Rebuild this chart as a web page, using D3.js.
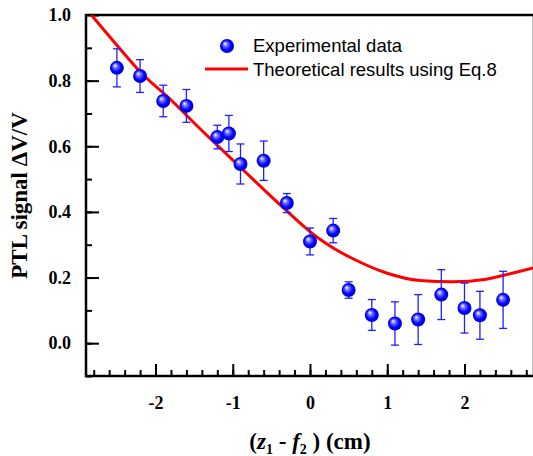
<!DOCTYPE html>
<html>
<head>
<meta charset="utf-8">
<script src="https://cdn.jsdelivr.net/npm/d3@7"></script>
<style>
  body { margin: 0; background: #fff; }
  svg { display: block; }
</style>
</head>
<body>
<svg id="chart"></svg>
<script>
// experimental points (z1 - f2 in cm, signal, error)
const expX = [-2.5, -2.2, -1.9, -1.6, -1.2, -1.05, -0.9, -0.6, -0.3, 0, 0.3, 0.5, 0.8, 1.1, 1.4, 1.7, 2.0, 2.2, 2.5];
const expY = [0.839, 0.814, 0.738, 0.723, 0.628, 0.639, 0.546, 0.556, 0.427, 0.31, 0.343, 0.162, 0.086, 0.06, 0.072, 0.148, 0.107, 0.085, 0.132];
const expErr = [0.058, 0.05, 0.048, 0.05, 0.036, 0.055, 0.061, 0.06, 0.029, 0.041, 0.037, 0.025, 0.047, 0.066, 0.076, 0.076, 0.076, 0.073, 0.087];

// theoretical curve
const theoX = [-2.83, -2.5, -2.2, -1.8, -1.43, -0.91, -0.57, -0.31, -0.05, 0.12, 0.3, 0.55, 0.99, 1.42, 1.85, 2.28, 2.63, 2.9];
const theoY = [1.0, 0.908, 0.827, 0.741, 0.655, 0.538, 0.462, 0.405, 0.35, 0.318, 0.29, 0.258, 0.214, 0.191, 0.187, 0.195, 0.214, 0.23];

const xTicks = [-2, -1, 0, 1, 2];
const yTicks = [0.0, 0.2, 0.4, 0.6, 0.8, 1.0];
const legendLabels = ['Experimental data', 'Theoretical results using Eq.8'];

const width = 533, height = 456;
const margin = {left: 86, top: 15, right: -1, bottom: 80};

const svg = d3.select('#chart')
  .attr('width', width)
  .attr('height', height);

const x = d3.scaleLinear().domain([-2.9, 2.9]).range([margin.left, width - margin.right]);
const y = d3.scaleLinear().domain([-0.1, 1.0]).range([height - margin.bottom, margin.top]);

const serif = '"Liberation Serif", "Times New Roman", serif';
const hyphen = f => d => f(d).replace('\u2212', '-');

const defs = svg.append('defs');
const grad = defs.append('radialGradient')
  .attr('id', 'ball')
  .attr('cx', '50%').attr('cy', '50%').attr('r', '55%')
  .attr('fx', '35%').attr('fy', '32%');
grad.append('stop').attr('offset', '0%').attr('stop-color', '#ffffff');
grad.append('stop').attr('offset', '30%').attr('stop-color', '#6b6bff');
grad.append('stop').attr('offset', '65%').attr('stop-color', '#0000ff');
grad.append('stop').attr('offset', '100%').attr('stop-color', '#0000c8');

defs.append('clipPath').attr('id', 'plotclip')
  .append('rect')
  .attr('x', x(-2.9)).attr('y', y(1.0))
  .attr('width', x(2.9) - x(-2.9)).attr('height', y(-0.1) - y(1.0));

// minor ticks
svg.append('g')
  .attr('transform', `translate(0,${y(-0.1)})`)
  .call(d3.axisBottom(x).tickValues(d3.range(-2.8, 2.9, 0.2)).tickSize(-6).tickFormat(''))
  .call(g => g.select('.domain').remove())
  .call(g => g.selectAll('line').attr('stroke-width', 2));
svg.append('g')
  .attr('transform', `translate(${x(-2.9)},0)`)
  .call(d3.axisLeft(y).tickValues(d3.range(-0.1, 1.0, 0.1)).tickSize(-6).tickFormat(''))
  .call(g => g.select('.domain').remove())
  .call(g => g.selectAll('line').attr('stroke-width', 2));

// major ticks
svg.append('g')
  .attr('transform', `translate(0,${y(-0.1)})`)
  .call(d3.axisBottom(x).tickValues(xTicks).tickSize(-12).tickPadding(20).tickFormat(hyphen(d3.format('d'))))
  .call(g => g.select('.domain').remove())
  .call(g => g.selectAll('line').attr('stroke-width', 2))
  .call(g => g.selectAll('text')
    .attr('font-family', serif)
    .attr('font-weight', 'bold').attr('font-size', 18).attr('fill', '#000'));
svg.append('g')
  .attr('transform', `translate(${x(-2.9)},0)`)
  .call(d3.axisLeft(y).tickValues(yTicks).tickSize(-13).tickPadding(15).tickFormat(d3.format('.1f')))
  .call(g => g.select('.domain').remove())
  .call(g => g.selectAll('line').attr('stroke-width', 2))
  .call(g => g.selectAll('text')
    .attr('font-family', serif)
    .attr('font-weight', 'bold').attr('font-size', 18).attr('fill', '#000'));

// frame
svg.append('rect')
  .attr('x', x(-2.9)).attr('y', y(1.0))
  .attr('width', x(2.9) - x(-2.9)).attr('height', y(-0.1) - y(1.0))
  .attr('fill', 'none').attr('stroke', '#000').attr('stroke-width', 2.5);

// theoretical curve
const theo = theoX.map((d, i) => [d, theoY[i]]);
svg.append('path')
  .datum(theo)
  .attr('clip-path', 'url(#plotclip)')
  .attr('fill', 'none')
  .attr('stroke', '#ff0000')
  .attr('stroke-width', 3)
  .attr('d', d3.line().x(d => x(d[0])).y(d => y(d[1])).curve(d3.curveMonotoneX));

// error bars + points
const pts = expX.map((d, i) => ({x: d, y: expY[i], e: expErr[i]}));
const eb = svg.append('g').attr('stroke', '#2020ff').attr('stroke-width', 1.3);
eb.selectAll('line.v').data(pts).enter().append('line')
  .attr('x1', d => x(d.x)).attr('x2', d => x(d.x))
  .attr('y1', d => y(d.y + d.e)).attr('y2', d => y(d.y - d.e));
eb.selectAll('line.t').data(pts).enter().append('line')
  .attr('x1', d => x(d.x) - 4).attr('x2', d => x(d.x) + 4)
  .attr('y1', d => y(d.y + d.e)).attr('y2', d => y(d.y + d.e));
eb.selectAll('line.b').data(pts).enter().append('line')
  .attr('x1', d => x(d.x) - 4).attr('x2', d => x(d.x) + 4)
  .attr('y1', d => y(d.y - d.e)).attr('y2', d => y(d.y - d.e));

svg.append('g').selectAll('circle').data(pts).enter().append('circle')
  .attr('cx', d => x(d.x)).attr('cy', d => y(d.y))
  .attr('r', 7)
  .attr('fill', 'url(#ball)');

// legend
const lg = svg.append('g')
  .attr('font-family', '"Liberation Sans", Arial, sans-serif')
  .attr('font-size', 18.5).attr('fill', '#000');
lg.append('circle').attr('cx', 227).attr('cy', 46).attr('r', 7).attr('fill', 'url(#ball)');
lg.append('text').attr('x', 253).attr('y', 52).text(legendLabels[0]);
lg.append('line').attr('x1', 205).attr('x2', 248).attr('y1', 69).attr('y2', 69)
  .attr('stroke', '#ff0000').attr('stroke-width', 3);
lg.append('text').attr('x', 253).attr('y', 76).text(legendLabels[1]);

// axis titles
svg.append('text')
  .attr('transform', `translate(27,${(y(1.0) + y(-0.1)) / 2}) rotate(-90)`)
  .attr('text-anchor', 'middle')
  .attr('font-family', serif)
  .attr('font-weight', 'bold').attr('font-size', 23)
  .text('PTL signal ΔV/V');

const xt = svg.append('text')
  .attr('x', 310).attr('y', 449)
  .attr('text-anchor', 'middle')
  .attr('font-family', serif)
  .attr('font-weight', 'bold').attr('font-size', 23);
xt.append('tspan').text('(');
xt.append('tspan').attr('font-style', 'italic').text('z');
xt.append('tspan').attr('font-size', 14).attr('dy', 5).text('1');
xt.append('tspan').attr('dy', -5).text(' - ');
xt.append('tspan').attr('font-style', 'italic').text('f');
xt.append('tspan').attr('font-size', 14).attr('dy', 5).text('2');
xt.append('tspan').attr('dy', -5).text(' ) (cm)');
</script>
</body>
</html>
